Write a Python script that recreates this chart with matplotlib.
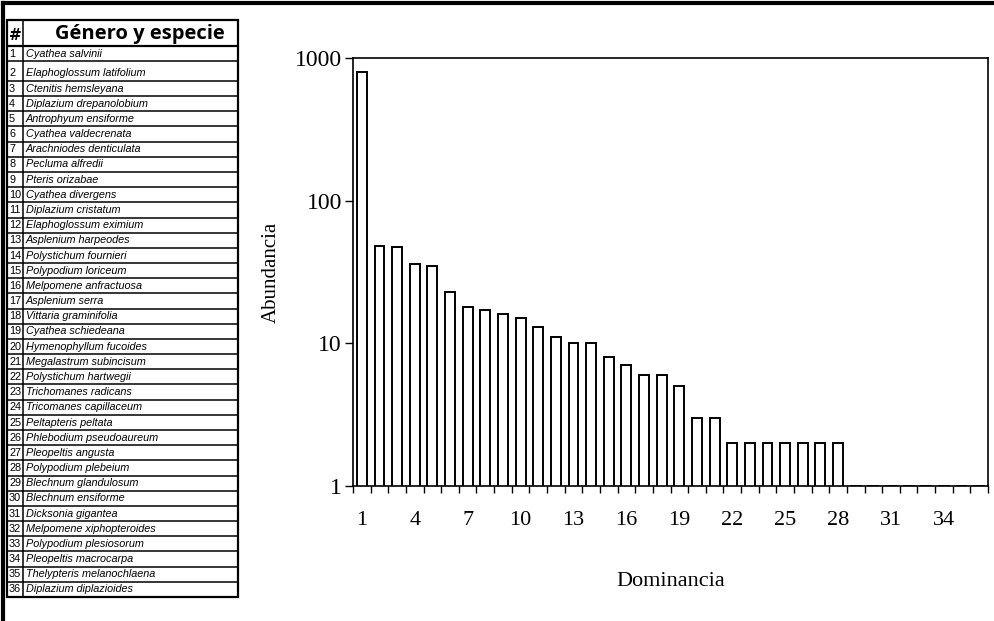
import matplotlib.pyplot as plt
import numpy as np
from matplotlib.lines import Line2D

W, H = 994, 621

ranks = np.arange(1, 37)
abundance = [800, 48, 47, 36, 35, 23, 18, 17, 16, 15, 13, 11, 10, 10, 8, 7, 6, 6, 5,
             3, 3, 2, 2, 2, 2, 2, 2, 2, 1, 1, 1, 1, 1, 1, 1, 1]
species = [
    "Cyathea salvinii", "Elaphoglossum latifolium", "Ctenitis hemsleyana",
    "Diplazium drepanolobium", "Antrophyum ensiforme", "Cyathea valdecrenata",
    "Arachniodes denticulata", "Pecluma alfredii", "Pteris orizabae",
    "Cyathea divergens", "Diplazium cristatum", "Elaphoglossum eximium",
    "Asplenium harpeodes", "Polystichum fournieri", "Polypodium loriceum",
    "Melpomene anfractuosa", "Asplenium serra", "Vittaria graminifolia",
    "Cyathea schiedeana", "Hymenophyllum fucoides", "Megalastrum subincisum",
    "Polystichum hartwegii", "Trichomanes radicans", "Tricomanes capillaceum",
    "Peltapteris peltata", "Phlebodium pseudoaureum", "Pleopeltis angusta",
    "Polypodium plebeium", "Blechnum glandulosum", "Blechnum ensiforme",
    "Dicksonia gigantea", "Melpomene xiphopteroides", "Polypodium plesiosorum",
    "Pleopeltis macrocarpa", "Thelypteris melanochlaena", "Diplazium diplazioides",
]
y_ticks = [1, 10, 100, 1000]
x_labels = list(range(1, 35, 3))


def fx(px):
    return px / W


def fy(py):
    return 1 - py / H


fig = plt.figure(figsize=(W / 100, H / 100), dpi=100)

# page border
for xs, ys, lw in [((3, 993), (3, 3), 3), ((3, 3), (3, 621), 3)]:
    fig.add_artist(Line2D([fx(x) for x in xs], [fy(y) for y in ys], color="black", lw=lw))

# ---- species table ----
tl, tr, tt, th, tb = 7, 238, 20, 46, 597
colx = 23
# second row is a bit taller in the original
heights = np.ones(len(species))
heights[1] = 1.3
row_edges = th + np.concatenate([[0], np.cumsum(heights)]) * (tb - th) / heights.sum()

tab = fig.add_axes([fx(tl), fy(tb), fx(tr) - fx(tl), fy(tt) - fy(tb)])
tab.set_xlim(tl, tr)
tab.set_ylim(tb, tt)
tab.axis("off")
tab.add_patch(plt.Rectangle((tl, tt), tr - tl, tb - tt, fill=False, lw=1.6, ec="black",
                            clip_on=False))
tab.plot([colx, colx], [tt, tb], color="black", lw=1.1)
tab.plot([tl, tr], [th, th], color="black", lw=1.6)
tab.text((tl + colx) / 2, (tt + th) / 2 + 2, "#", ha="center", va="center",
         fontsize=11, fontweight="bold", family="DejaVu Sans")
tab.text((colx + tr) / 2 + 9, (tt + th) / 2 + 1, "Género y especie", ha="center", va="center",
         fontsize=14.5, fontweight="bold", family="Open Sans")
for i, (n, name) in enumerate(zip(ranks, species)):
    y0, y1 = row_edges[i], row_edges[i + 1]
    tab.plot([tl, tr], [y1, y1], color="black", lw=1.1)
    yc = y1 - 7.5
    tab.text(tl + 2, yc, str(n), ha="left", va="center",
             fontsize=7.8, family="Liberation Sans")
    tab.text(colx + 3, yc, name, ha="left", va="center",
             fontsize=7.8, style="italic", family="Liberation Sans")

# ---- rank-abundance chart ----
pl, pr, pt, pb = 353, 988, 58, 486
ax = fig.add_axes([fx(pl), fy(pb), fx(pr) - fx(pl), fy(pt) - fy(pb)])
ax.bar(ranks, abundance, width=0.56, color="white", edgecolor="black", linewidth=1.4)
ax.set_yscale("log")
ax.set_ylim(1, 1000)
ax.set_xlim(0.5, 36.5)
ax.set_yticks(y_ticks)
ax.set_yticklabels([str(v) for v in y_ticks])
ax.yaxis.set_minor_locator(plt.NullLocator())
ax.set_xticks(x_labels)
ax.set_xticklabels([str(v) for v in x_labels])
ax.set_xticks(np.arange(0.5, 37, 1), minor=True)
ax.tick_params(axis="x", which="major", length=0, pad=18, labelsize=16)
ax.tick_params(axis="x", which="minor", length=5, width=1, direction="out")
ax.tick_params(axis="y", length=6, width=1, direction="out", pad=2, labelsize=17)
for lab in ax.get_xticklabels() + ax.get_yticklabels():
    lab.set_family("Liberation Serif")
for s in ax.spines.values():
    s.set_linewidth(1.2)
ax.set_ylabel("Abundancia", family="Liberation Serif", fontsize=15, labelpad=10)
ax.set_xlabel("Dominancia", family="Liberation Serif", fontsize=16, labelpad=30)

fig.savefig("out.png", dpi=100)
